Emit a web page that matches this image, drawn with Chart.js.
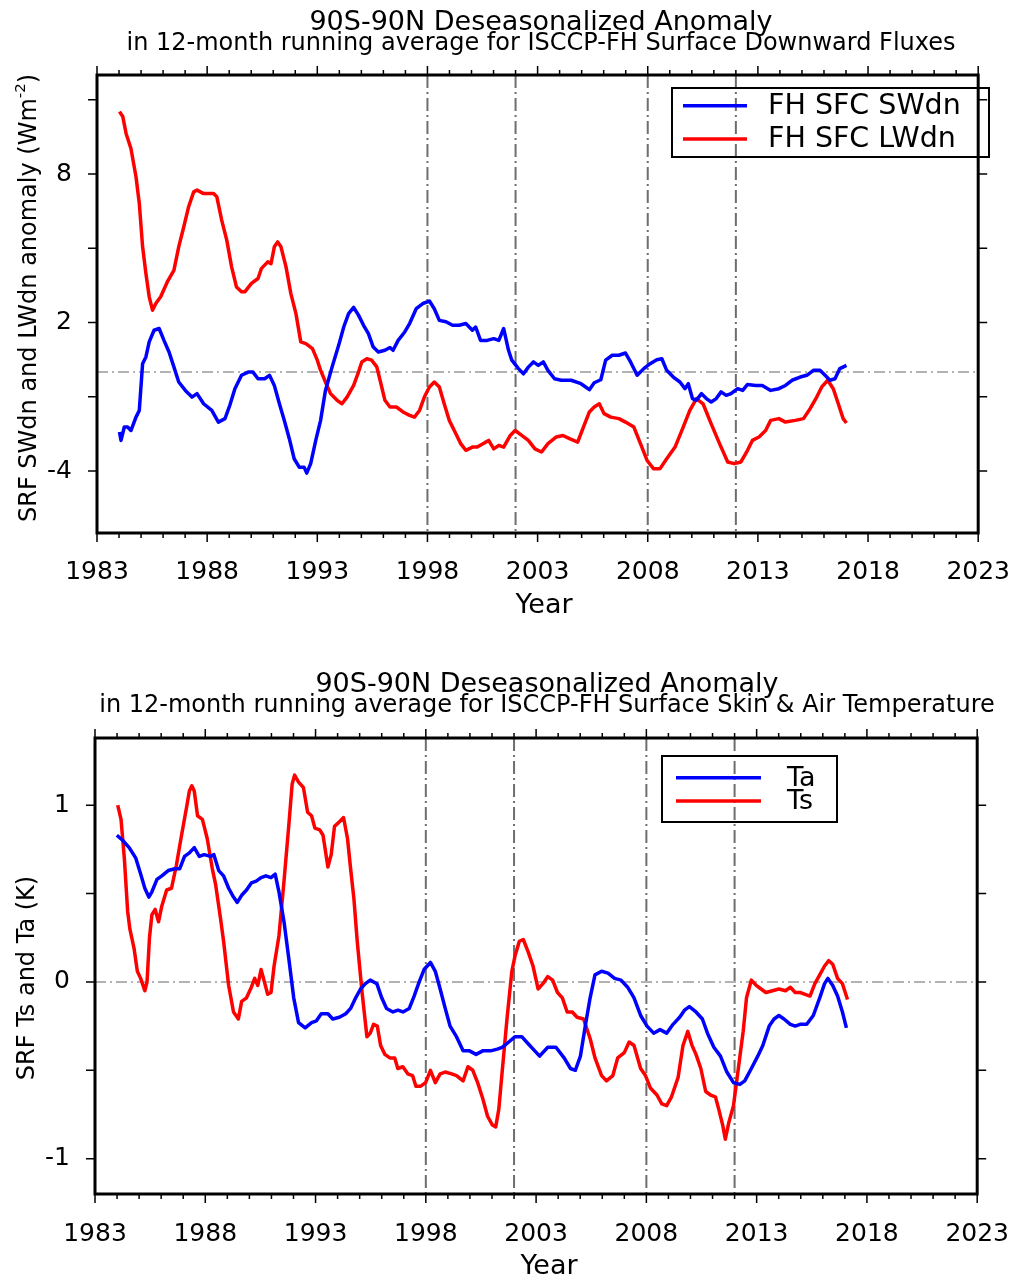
<!DOCTYPE html>
<html>
<head>
<meta charset="utf-8">
<script src="https://cdn.jsdelivr.net/npm/chart.js@4.4.1/dist/chart.umd.min.js"></script>
<style>
html,body{margin:0;padding:0;background:#fff;width:1034px;height:1280px;overflow:hidden}
canvas{position:absolute;left:0}
#c1{top:0}
#c2{top:640px}
</style>
</head>
<body>
<canvas id="c1" width="1034" height="640"></canvas>
<canvas id="c2" width="1034" height="640"></canvas>
<script>
// ---------------- data ----------------
const xTicks = [1983, 1988, 1993, 1998, 2003, 2008, 2013, 2018, 2023];
const markYears = [1998, 2002, 2008, 2012];

const fluxYTicks = [-4, -1, 2, 5, 8, 11];
const fluxYLabels = [-4, 2, 8];
const tempYTicks = [-1, -0.5, 0, 0.5, 1];
const tempYLabels = [-1, 0, 1];

const swYears = [
1984.02,1984.09,1984.24,1984.39,1984.54,1984.77,1984.92,1985.07,1985.22,1985.37,
1985.59,1985.82,1986.04,1986.27,1986.49,1986.71,1987.01,1987.31,1987.54,1987.84,
1988.21,1988.51,1988.81,1989.03,1989.26,1989.56,1989.86,1990.08,1990.31,1990.61,
1990.83,1991.05,1991.28,1991.50,1991.73,1991.95,1992.18,1992.40,1992.52,1992.70,
1992.93,1993.15,1993.37,1993.67,1993.97,1994.20,1994.42,1994.65,1994.87,1995.10,
1995.32,1995.54,1995.77,1996.07,1996.30,1996.44,1996.67,1996.97,1997.19,1997.49,
1997.79,1998.09,1998.31,1998.54,1998.84,1999.14,1999.44,1999.74,2000.04,2000.19,
2000.41,2000.71,2001.01,2001.24,2001.46,2001.68,2001.83,2002.13,2002.36,2002.58,
2002.81,2003.03,2003.26,2003.47,2003.77,2004.07,2004.52,2004.97,2005.35,2005.57,
2005.87,2006.09,2006.39,2006.69,2006.99,2007.22,2007.52,2007.82,2008.11,2008.41,
2008.64,2008.86,2009.16,2009.46,2009.69,2009.84,2010.03,2010.21,2010.44,2010.66,
2010.88,2011.11,2011.33,2011.56,2011.78,2012.08,2012.31,2012.53,2012.90,2013.20,
2013.58,2013.95,2014.25,2014.55,2014.92,2015.22,2015.52,2015.82,2016.05,2016.27,
2016.50,2016.72,2017.02];
const swVals = [
-2.42,-2.76,-2.22,-2.22,-2.36,-1.82,-1.55,0.34,0.61,1.22,
1.69,1.76,1.28,0.81,0.21,-0.40,-0.74,-1.01,-0.87,-1.28,
-1.55,-2.02,-1.88,-1.34,-0.67,-0.13,0.00,0.00,-0.27,-0.27,
-0.13,-0.54,-1.28,-1.95,-2.69,-3.50,-3.84,-3.84,-4.08,-3.70,
-2.76,-1.95,-0.74,0.20,1.08,1.82,2.36,2.61,2.30,1.89,
1.55,1.01,0.81,0.88,0.99,0.88,1.28,1.62,1.96,2.56,
2.77,2.87,2.56,2.09,2.03,1.89,1.89,1.96,1.69,1.82,
1.28,1.28,1.35,1.28,1.76,0.88,0.48,0.14,-0.07,0.20,
0.41,0.27,0.41,0.07,-0.27,-0.33,-0.33,-0.47,-0.71,-0.43,
-0.31,0.48,0.68,0.68,0.77,0.41,-0.13,0.14,0.34,0.50,
0.54,0.07,-0.20,-0.40,-0.67,-0.47,-1.07,-1.14,-0.87,-1.07,
-1.21,-1.07,-0.80,-0.94,-0.87,-0.67,-0.74,-0.50,-0.54,-0.54,
-0.74,-0.67,-0.54,-0.33,-0.20,-0.13,0.07,0.07,-0.13,-0.33,
-0.27,0.14,0.27];

const lwYears = [
1984.02,1984.17,1984.32,1984.54,1984.77,1984.92,1985.07,1985.22,1985.37,1985.52,
1985.67,1985.89,1986.19,1986.49,1986.71,1986.94,1987.16,1987.39,1987.54,1987.84,
1988.29,1988.44,1988.66,1988.89,1989.11,1989.33,1989.56,1989.71,1990.01,1990.31,
1990.46,1990.75,1990.90,1991.05,1991.20,1991.35,1991.58,1991.80,1992.03,1992.25,
1992.48,1992.78,1993.00,1993.15,1993.37,1993.60,1993.90,1994.12,1994.35,1994.65,
1994.87,1995.02,1995.25,1995.47,1995.70,1995.85,1996.07,1996.30,1996.59,1996.89,
1997.19,1997.41,1997.64,1997.86,1998.09,1998.31,1998.54,1998.76,1998.99,1999.29,
1999.51,1999.74,2000.04,2000.26,2000.64,2000.78,2001.01,2001.24,2001.46,2001.76,
2001.98,2002.28,2002.58,2002.88,2003.18,2003.47,2003.85,2004.15,2004.45,2004.82,
2005.05,2005.35,2005.57,2005.80,2006.02,2006.32,2006.69,2006.99,2007.37,2007.67,
2007.97,2008.26,2008.56,2008.86,2009.24,2009.61,2009.91,2010.21,2010.51,2010.88,
2011.26,2011.63,2011.93,2012.23,2012.53,2012.75,2013.05,2013.35,2013.58,2013.95,
2014.25,2014.70,2015.07,2015.37,2015.67,2015.90,2016.17,2016.42,2016.65,2016.87,
2017.02];
const lwVals = [
10.52,10.32,9.64,9.03,7.89,6.81,5.06,3.98,3.04,2.50,
2.77,3.04,3.64,4.11,5.06,5.87,6.68,7.28,7.35,7.21,
7.21,7.08,6.14,5.33,4.25,3.44,3.24,3.24,3.58,3.78,
4.18,4.45,4.38,5.06,5.26,5.06,4.25,3.17,2.36,1.22,
1.15,0.95,0.48,0.07,-0.40,-0.87,-1.14,-1.28,-1.01,-0.54,
0.00,0.41,0.54,0.48,0.21,-0.33,-1.14,-1.41,-1.41,-1.61,
-1.75,-1.82,-1.55,-1.01,-0.60,-0.40,-0.60,-1.28,-1.95,-2.49,
-2.89,-3.16,-3.03,-3.03,-2.83,-2.76,-3.10,-2.96,-3.03,-2.56,
-2.36,-2.56,-2.76,-3.10,-3.23,-2.89,-2.62,-2.56,-2.69,-2.83,
-2.29,-1.61,-1.41,-1.28,-1.68,-1.82,-1.88,-2.02,-2.22,-2.89,
-3.57,-3.90,-3.90,-3.50,-3.03,-2.22,-1.55,-1.07,-1.28,-2.09,
-2.89,-3.63,-3.70,-3.63,-3.16,-2.76,-2.62,-2.36,-1.95,-1.88,
-2.02,-1.95,-1.88,-1.48,-1.01,-0.60,-0.33,-0.67,-1.28,-1.88,
-2.06];

const taYears = [
1983.99,1984.26,1984.55,1984.85,1985.07,1985.26,1985.44,1985.58,1985.81,1986.03,
1986.32,1986.62,1986.84,1987.06,1987.28,1987.50,1987.73,1987.95,1988.24,1988.39,
1988.61,1988.83,1989.06,1989.28,1989.45,1989.65,1989.87,1990.09,1990.31,1990.53,
1990.75,1990.98,1991.17,1991.34,1991.57,1991.79,1992.01,1992.23,1992.53,1992.82,
1993.04,1993.26,1993.56,1993.78,1994.08,1994.37,1994.59,1994.82,1995.04,1995.26,
1995.48,1995.78,1996.00,1996.22,1996.51,1996.74,1996.96,1997.25,1997.47,1997.70,
1997.92,1998.21,1998.43,1998.65,1998.88,1999.10,1999.39,1999.69,1999.98,2000.28,
2000.58,2000.94,2001.24,2001.46,2001.76,2002.05,2002.35,2002.64,2002.94,2003.16,
2003.53,2003.90,2004.27,2004.56,2004.78,2005.01,2005.23,2005.45,2005.67,2005.97,
2006.26,2006.56,2006.85,2007.15,2007.44,2007.74,2008.03,2008.33,2008.62,2008.92,
2009.21,2009.51,2009.73,2009.95,2010.25,2010.54,2010.77,2011.06,2011.36,2011.65,
2011.95,2012.24,2012.46,2012.76,2013.05,2013.28,2013.57,2013.79,2014.01,2014.24,
2014.53,2014.75,2014.97,2015.27,2015.57,2015.86,2016.08,2016.23,2016.45,2016.67,
2016.89,2017.07];
const taVals = [
0.83,0.80,0.76,0.70,0.61,0.53,0.48,0.51,0.58,0.60,
0.63,0.64,0.64,0.71,0.73,0.76,0.71,0.72,0.71,0.72,
0.63,0.60,0.53,0.48,0.45,0.49,0.52,0.56,0.57,0.59,
0.60,0.59,0.61,0.51,0.34,0.13,-0.09,-0.23,-0.26,-0.23,
-0.22,-0.18,-0.18,-0.21,-0.20,-0.18,-0.15,-0.09,-0.04,-0.01,
0.01,-0.01,-0.09,-0.15,-0.17,-0.16,-0.17,-0.15,-0.08,0.00,
0.07,0.11,0.06,-0.04,-0.15,-0.25,-0.31,-0.39,-0.39,-0.41,
-0.39,-0.39,-0.38,-0.37,-0.34,-0.31,-0.31,-0.35,-0.39,-0.42,
-0.37,-0.37,-0.43,-0.49,-0.50,-0.42,-0.25,-0.09,0.04,0.06,
0.05,0.02,0.01,-0.03,-0.09,-0.19,-0.25,-0.29,-0.27,-0.29,
-0.24,-0.20,-0.16,-0.14,-0.17,-0.21,-0.29,-0.37,-0.42,-0.51,
-0.57,-0.58,-0.56,-0.49,-0.42,-0.36,-0.25,-0.21,-0.19,-0.21,
-0.24,-0.25,-0.24,-0.24,-0.19,-0.09,-0.01,0.02,-0.02,-0.08,
-0.17,-0.26];

const tsYears = [
1984.03,1984.18,1984.33,1984.48,1984.58,1984.77,1984.92,1985.07,1985.26,1985.36,
1985.47,1985.58,1985.73,1985.88,1986.03,1986.25,1986.47,1986.69,1986.91,1987.14,
1987.28,1987.39,1987.50,1987.65,1987.87,1988.09,1988.32,1988.47,1988.69,1988.83,
1989.06,1989.28,1989.50,1989.65,1989.87,1990.09,1990.24,1990.38,1990.53,1990.68,
1990.83,1990.98,1991.12,1991.34,1991.57,1991.79,1991.94,1992.05,1992.23,1992.45,
1992.64,1992.82,1992.97,1993.19,1993.34,1993.56,1993.71,1993.86,1994.12,1994.27,
1994.45,1994.59,1994.74,1994.89,1995.11,1995.33,1995.48,1995.63,1995.80,1995.95,
1996.14,1996.37,1996.59,1996.73,1996.96,1997.18,1997.40,1997.55,1997.77,1997.99,
1998.21,1998.43,1998.65,1998.88,1999.17,1999.39,1999.69,1999.91,2000.13,2000.35,
2000.58,2000.80,2001.02,2001.17,2001.31,2001.46,2001.68,2001.90,2002.05,2002.24,
2002.42,2002.64,2002.86,2003.09,2003.31,2003.53,2003.75,2003.97,2004.19,2004.41,
2004.64,2004.86,2005.15,2005.45,2005.67,2005.97,2006.19,2006.48,2006.70,2007.00,
2007.22,2007.44,2007.74,2007.96,2008.18,2008.48,2008.70,2008.92,2009.14,2009.44,
2009.66,2009.88,2010.07,2010.25,2010.47,2010.69,2010.91,2011.13,2011.28,2011.46,
2011.58,2011.73,2011.95,2012.17,2012.39,2012.54,2012.76,2012.98,2013.20,2013.42,
2013.72,2014.01,2014.31,2014.53,2014.75,2014.97,2015.20,2015.42,2015.64,2015.86,
2016.08,2016.27,2016.45,2016.67,2016.89,2017.12];
const tsVals = [
1.00,0.92,0.70,0.40,0.30,0.19,0.06,0.02,-0.05,0.00,
0.25,0.38,0.41,0.34,0.43,0.52,0.53,0.66,0.82,0.98,
1.08,1.11,1.08,0.94,0.92,0.81,0.64,0.55,0.36,0.23,
-0.02,-0.17,-0.21,-0.11,-0.09,-0.03,0.02,-0.02,0.07,0.00,
-0.07,-0.06,0.09,0.26,0.57,0.89,1.12,1.17,1.13,1.10,
0.96,0.94,0.87,0.86,0.83,0.65,0.72,0.88,0.91,0.93,
0.81,0.64,0.47,0.23,-0.06,-0.31,-0.29,-0.24,-0.25,-0.36,
-0.41,-0.43,-0.43,-0.49,-0.48,-0.52,-0.53,-0.59,-0.59,-0.57,
-0.50,-0.57,-0.52,-0.51,-0.52,-0.53,-0.56,-0.48,-0.50,-0.57,
-0.66,-0.76,-0.81,-0.82,-0.72,-0.51,-0.21,0.06,0.15,0.23,
0.24,0.17,0.09,-0.04,-0.01,0.03,0.01,-0.06,-0.09,-0.17,
-0.17,-0.20,-0.21,-0.32,-0.43,-0.53,-0.56,-0.53,-0.43,-0.40,
-0.34,-0.36,-0.49,-0.53,-0.60,-0.64,-0.69,-0.70,-0.65,-0.54,
-0.36,-0.28,-0.36,-0.41,-0.49,-0.62,-0.64,-0.65,-0.72,-0.81,
-0.89,-0.80,-0.70,-0.49,-0.28,-0.09,0.01,-0.02,-0.04,-0.06,
-0.05,-0.04,-0.05,-0.03,-0.06,-0.06,-0.07,-0.08,-0.01,0.04,
0.09,0.12,0.10,0.02,-0.01,-0.10];

// ---------------- drawing ----------------
const FONT = '"DejaVu Sans", "Liberation Sans", Arial, sans-serif';
Chart.defaults.font.family = FONT;
Chart.defaults.color = '#000';

function toPoints(xs, ys) { return xs.map((v, i) => ({ x: v, y: ys[i] })); }

function drawRich(ctx, parts, size, cx, cy) {
  // parts: [{t, sup}] drawn centred on (cx, cy)
  ctx.textAlign = 'left';
  ctx.textBaseline = 'middle';
  let total = 0;
  parts.forEach(p => {
    ctx.font = (p.sup ? size * 0.62 : size) + 'px ' + FONT;
    p.w = ctx.measureText(p.t).width; total += p.w;
  });
  let x = cx - total / 2;
  parts.forEach(p => {
    ctx.font = (p.sup ? size * 0.62 : size) + 'px ' + FONT;
    ctx.fillText(p.t, x, p.sup ? cy - size * 0.36 : cy);
    x += p.w;
  });
}

const decor = {
  id: 'decor',
  beforeDatasetsDraw(chart, args, o) {
    const { ctx, chartArea: a, scales: { x, y } } = chart;
    ctx.save();
    ctx.strokeStyle = '#9a9a9a'; ctx.lineWidth = 1.5; ctx.setLineDash([11, 4, 2, 4]);
    const y0 = y.getPixelForValue(0);
    ctx.beginPath(); ctx.moveTo(a.left, y0); ctx.lineTo(a.right, y0); ctx.stroke();
    ctx.strokeStyle = '#6e6e6e'; ctx.lineWidth = 2; ctx.setLineDash([13, 4, 2, 4]);
    o.vLines.forEach(v => {
      const px = x.getPixelForValue(v);
      ctx.beginPath(); ctx.moveTo(px, a.top); ctx.lineTo(px, a.bottom); ctx.stroke();
    });
    ctx.restore();
  },
  afterDraw(chart, args, o) {
    const { ctx, chartArea: a, scales: { x, y } } = chart;
    ctx.save();
    ctx.setLineDash([]);
    ctx.strokeStyle = '#000'; ctx.fillStyle = '#000';
    // tick marks (outward, all four sides)
    ctx.lineWidth = 1.5;
    ctx.beginPath();
    for (let yr = x.min; yr <= x.max; yr++) {
      const px = x.getPixelForValue(yr);
      const len = ((yr - x.min) % 5 === 0) ? 9 : 5;
      ctx.moveTo(px, a.bottom); ctx.lineTo(px, a.bottom + len);
      ctx.moveTo(px, a.top); ctx.lineTo(px, a.top - len);
    }
    o.yTicks.forEach(v => {
      const py = y.getPixelForValue(v);
      ctx.moveTo(a.left, py); ctx.lineTo(a.left - 9, py);
      ctx.moveTo(a.right, py); ctx.lineTo(a.right + 9, py);
    });
    ctx.stroke();
    // frame
    ctx.lineWidth = 3;
    ctx.strokeRect(a.left, a.top, a.right - a.left, a.bottom - a.top);

    // titles
    ctx.textAlign = 'center'; ctx.textBaseline = 'alphabetic';
    ctx.font = '27px ' + FONT;
    ctx.fillText(o.title, o.titleX, o.titleY);
    ctx.font = '24px ' + FONT;
    ctx.fillText(o.subtitle, o.titleX, o.titleY + 20);

    // axis titles
    ctx.textBaseline = 'middle';
    ctx.font = '27px ' + FONT;
    ctx.fillText('Year', o.xTitle[0], o.xTitle[1]);
    ctx.save();
    ctx.translate(o.yTitle[0], o.yTitle[1]);
    ctx.rotate(-Math.PI / 2);
    drawRich(ctx, o.yTitleParts, 24, 0, 0);
    ctx.restore();

    // legend
    const L = o.legend;
    ctx.lineWidth = 2; ctx.strokeStyle = '#000';
    ctx.strokeRect(L.x, L.y, L.w, L.h);
    ctx.textAlign = 'left'; ctx.textBaseline = 'middle';
    ctx.font = L.font + 'px ' + FONT;
    chart.data.datasets.forEach((ds, i) => {
      const ry = L.rows[i];
      ctx.strokeStyle = ds.borderColor; ctx.lineWidth = 3.5;
      ctx.beginPath(); ctx.moveTo(L.x1, ry); ctx.lineTo(L.x2, ry); ctx.stroke();
      ctx.fillStyle = '#000';
      ctx.fillText(ds.label, L.tx, ry + 1);
    });
    ctx.restore();
  }
};

function makeChart(id, cfg) {
  return new Chart(document.getElementById(id), {
    type: 'line',
    data: {
      datasets: cfg.series.map(s => ({
        label: s.label, data: toPoints(s.xs, s.ys), borderColor: s.color,
        borderWidth: 3.5, pointRadius: 0, tension: 0, fill: false, borderJoinStyle: 'round'
      }))
    },
    options: {
      responsive: false, animation: false, devicePixelRatio: 1,
      layout: { padding: cfg.padding },
      plugins: { legend: { display: false }, tooltip: { enabled: false }, title: { display: false },
        decor: cfg.decor },
      scales: {
        x: {
          type: 'linear', min: 1983, max: 2023,
          grid: { display: false, drawTicks: false }, border: { display: false },
          afterBuildTicks: s => { s.ticks = xTicks.map(v => ({ value: v })); },
          afterFit: s => { s.height = cfg.xHeight; },
          ticks: { autoSkip: false, maxRotation: 0, padding: cfg.xPad, font: { size: 25 }, color: '#000',
            callback: v => String(v) }
        },
        y: {
          type: 'linear', min: cfg.yMin, max: cfg.yMax,
          grid: { display: false, drawTicks: false }, border: { display: false },
          afterBuildTicks: s => { s.ticks = cfg.yTicks.map(v => ({ value: v })); },
          afterFit: s => { s.width = cfg.yWidth; },
          ticks: { autoSkip: false, padding: 25, font: { size: 25 }, color: '#000',
            callback: v => cfg.yLabels.includes(v) ? String(v) : '' }
        }
      }
    },
    plugins: [decor]
  });
}

makeChart('c1', {
  series: [
    { label: 'FH SFC SWdn', xs: swYears, ys: swVals, color: '#0000ff' },
    { label: 'FH SFC LWdn', xs: lwYears, ys: lwVals, color: '#ff0000' }
  ],
  padding: { left: 0, right: 46, top: 75, bottom: 0 },
  xHeight: 107, yWidth: 97, xPad: 24,
  yMin: -6.5, yMax: 12, yTicks: fluxYTicks, yLabels: fluxYLabels,
  decor: {
    vLines: markYears, yTicks: fluxYTicks,
    title: '90S-90N Deseasonalized Anomaly',
    subtitle: 'in 12-month running average for ISCCP-FH Surface Downward Fluxes',
    titleX: 541, titleY: 29.5,
    xTitle: [544, 606], yTitle: [30, 298],
    yTitleParts: [{ t: 'SRF SWdn and LWdn anomaly (Wm' }, { t: '-2', sup: true }, { t: ')' }],
    legend: { x: 672, y: 88, w: 317, h: 69, rows: [105.7, 139], x1: 683, x2: 747, tx: 768, font: 28.5 }
  }
});

makeChart('c2', {
  series: [
    { label: 'Ta', xs: taYears, ys: taVals, color: '#0000ff' },
    { label: 'Ts', xs: tsYears, ys: tsVals, color: '#ff0000' }
  ],
  padding: { left: 0, right: 36, top: 98, bottom: 0 },
  xHeight: 86, yWidth: 95, xPad: 25,
  yMin: -1.2, yMax: 1.38, yTicks: tempYTicks, yLabels: tempYLabels,
  decor: {
    vLines: markYears, yTicks: tempYTicks,
    title: '90S-90N Deseasonalized Anomaly',
    subtitle: 'in 12-month running average for ISCCP-FH Surface Skin & Air Temperature',
    titleX: 547, titleY: 51.7,
    xTitle: [549, 627], yTitle: [28, 338],
    yTitleParts: [{ t: 'SRF Ts and Ta (K)' }],
    legend: { x: 662, y: 116, w: 175, h: 66, rows: [137.7, 161], x1: 676, x2: 761, tx: 787, font: 27 }
  }
});
</script>
</body>
</html>
